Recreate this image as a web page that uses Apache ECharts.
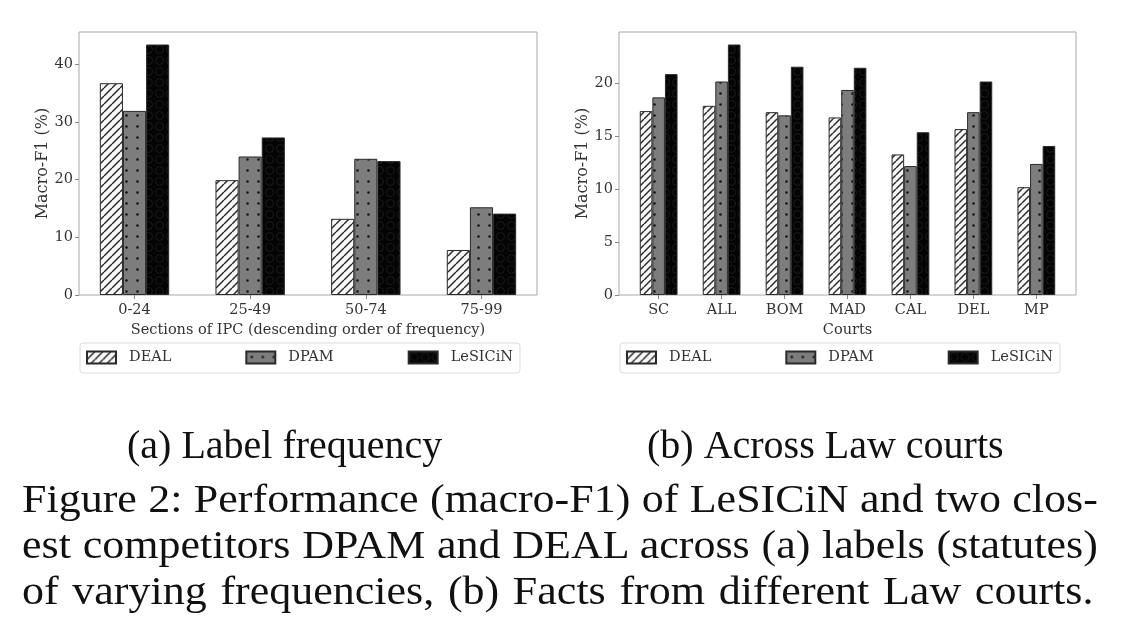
<!DOCTYPE html>
<html>
<head>
<meta charset="utf-8">
<script src="https://cdn.jsdelivr.net/npm/echarts@6/dist/echarts.min.js"></script>
<style>
  html, body { margin: 0; padding: 0; background: #fff; }
  #chart { position: absolute; left: 0; top: 0; width: 1135px; height: 642px; }
  #caption { position: absolute; left: 22px; top: 476px; width: 978px;
    transform: scaleX(1.10); transform-origin: 0 0;
    font-family: 'Liberation Serif', 'Times New Roman', serif; font-size: 40px;
    line-height: 46px; color: #111; }
  #caption div { white-space: nowrap; text-align: justify; text-align-last: justify; }
  #caption .last { width: 974px; }
</style>
</head>
<body>
<div id="chart"></div>
<div id="caption">
  <div>Figure 2: Performance (macro-F1) of LeSICiN and two clos-</div>
  <div>est competitors DPAM and DEAL across (a) labels (statutes)</div>
  <div class="last">of varying frequencies, (b) Facts from different Law courts.</div>
</div>
<script>
// ---------- data ----------
const seriesNames = ['DEAL', 'DPAM', 'LeSICiN'];

const freqCategories = ['0-24', '25-49', '50-74', '75-99'];
const freqDEAL    = [36.7, 19.9, 13.2, 7.8];
const freqDPAM    = [31.9, 24.0, 23.6, 15.2];
const freqLeSICiN = [43.4, 27.3, 23.2, 14.1];
const freqTicks   = [0, 10, 20, 30, 40];

const courtCategories = ['SC', 'ALL', 'BOM', 'MAD', 'CAL', 'DEL', 'MP'];
const courtDEAL    = [17.4, 17.9, 17.3, 16.8, 13.3, 15.7, 10.2];
const courtDPAM    = [18.7, 20.2, 17.0, 19.4, 12.2, 17.3, 12.4];
const courtLeSICiN = [20.9, 23.7, 21.6, 21.5, 15.4, 20.2, 14.1];
const courtTicks   = [0, 5, 10, 15, 20];

// ---------- patterns ----------
function hatchPattern(size) {
  const c = document.createElement('canvas'); c.width = size; c.height = size;
  const g = c.getContext('2d');
  g.fillStyle = '#f7f7f7'; g.fillRect(0, 0, size, size);
  g.strokeStyle = '#2e2e2e'; g.lineWidth = 1.5;
  g.beginPath();
  for (let k = -1; k <= 1; k++) { g.moveTo(k * size, size); g.lineTo(k * size + size, 0); }
  g.stroke();
  return { image: c, repeat: 'repeat' };
}
function dotPattern(size) {
  const c = document.createElement('canvas'); c.width = size; c.height = size;
  const g = c.getContext('2d');
  g.fillStyle = '#7d7d7d'; g.fillRect(0, 0, size, size);
  g.fillStyle = '#151515';
  g.beginPath(); g.arc(size / 2, size / 2, 1.3, 0, Math.PI * 2); g.fill();
  return { image: c, repeat: 'repeat' };
}
function circlePattern(size) {
  const c = document.createElement('canvas'); c.width = size; c.height = size;
  const g = c.getContext('2d');
  g.fillStyle = '#040404'; g.fillRect(0, 0, size, size);
  g.strokeStyle = '#1c1c1c'; g.lineWidth = 1;
  g.beginPath(); g.arc(size / 2, size / 2, size * 0.36, 0, Math.PI * 2); g.stroke();
  return { image: c, repeat: 'repeat' };
}

// ---------- layout ----------
const FONT = 'DejaVu Serif';
const TXT = '#333';
const FRAME = '#a8a8a8';
const grids = [
  { left: 79, top: 32, width: 458, height: 263 },
  { left: 619, top: 32, width: 457, height: 263 }
];

function xRange(n) {           // matplotlib-like auto margins around bars
  const lo = -0.3, hi = n - 1 + 0.3, m = (hi - lo) * 0.05;
  return [lo - m, hi + m];
}
const panels = [
  { cats: freqCategories, vals: [freqDEAL, freqDPAM, freqLeSICiN], ticks: freqTicks,
    xname: 'Sections of IPC (descending order of frequency)', hatch: 8 },
  { cats: courtCategories, vals: [courtDEAL, courtDPAM, courtLeSICiN], ticks: courtTicks,
    xname: 'Courts', hatch: 7 }
];

const xAxes = [], yAxes = [], series = [], legends = [];
panels.forEach((p, gi) => {
  const [xmin, xmax] = xRange(p.cats.length);
  const allVals = [].concat(...p.vals);
  const ymax = Math.max(...allVals) * 1.05;
  const barW = grids[gi].width / (xmax - xmin) * 0.2;
  xAxes.push({
    type: 'value', gridIndex: gi, min: xmin, max: xmax,
    name: p.xname, nameLocation: 'middle', nameGap: 28,
    nameTextStyle: { fontFamily: FONT, fontSize: 14.5, color: TXT },
    axisLine: { show: false, onZero: false },
    splitLine: { show: false },
    axisTick: { show: true, length: 4, lineStyle: { color: '#888' },
      customValues: p.cats.map((c, i) => i) },
    axisLabel: { fontFamily: FONT, fontSize: 14.5, color: TXT, margin: 8,
      customValues: p.cats.map((c, i) => i),
      formatter: v => p.cats[Math.round(v)] }
  });
  yAxes.push({
    type: 'value', gridIndex: gi, min: 0, max: ymax,
    name: 'Macro-F1 (%)', nameLocation: 'middle', nameGap: 28,
    nameTextStyle: { fontFamily: FONT, fontSize: 16, color: TXT },
    axisLine: { show: false, onZero: false },
    splitLine: { show: false },
    axisTick: { show: true, length: 4, lineStyle: { color: '#888' }, customValues: p.ticks },
    axisLabel: { fontFamily: FONT, fontSize: 14.5, color: TXT, margin: 6, customValues: p.ticks }
  });
  const colors = [hatchPattern(p.hatch), dotPattern(11), circlePattern(11)];
  seriesNames.forEach((name, si) => {
    series.push({
      type: 'bar', name: name, xAxisIndex: gi, yAxisIndex: gi,
      barWidth: barW, barGap: '0%',
      itemStyle: { color: colors[si], borderColor: '#2a2a2a', borderWidth: 1 },
      emphasis: { disabled: true },
      data: p.vals[si].map((v, i) => [i, v])
    });
  });
  legends.push({
    data: seriesNames.map(n => ({ name: n, icon: 'rect' })),
    left: grids[gi].left + 1, top: 343, orient: 'horizontal',
    itemWidth: 29, itemHeight: 12, itemGap: 74,
    padding: [7, 7, 8, 6],
    borderColor: '#dcdcdc', borderWidth: 1, borderRadius: 3,
    selectedMode: false,
    textStyle: { fontFamily: FONT, fontSize: 14.5, color: TXT, padding: [0, 0, 0, 8] }
  });
});

const chart = echarts.init(document.getElementById('chart'), null, { renderer: 'canvas' });
chart.setOption({
  animation: false,
  backgroundColor: '#fff',
  grid: grids.map(g => Object.assign({ show: true, borderColor: FRAME, borderWidth: 1,
    backgroundColor: 'transparent', containLabel: false, outerBoundsMode: 'none' }, g)),
  xAxis: xAxes,
  yAxis: yAxes,
  legend: legends,
  graphic: [
    { type: 'text', left: 127, top: 427,
      style: { text: '(a) Label frequency', font: "40px 'Liberation Serif'", fill: '#111' } },
    { type: 'text', left: 647, top: 427,
      style: { text: '(b) Across Law courts', font: "40px 'Liberation Serif'", fill: '#111' } }
  ],
  series: series
});
</script>
</body>
</html>
